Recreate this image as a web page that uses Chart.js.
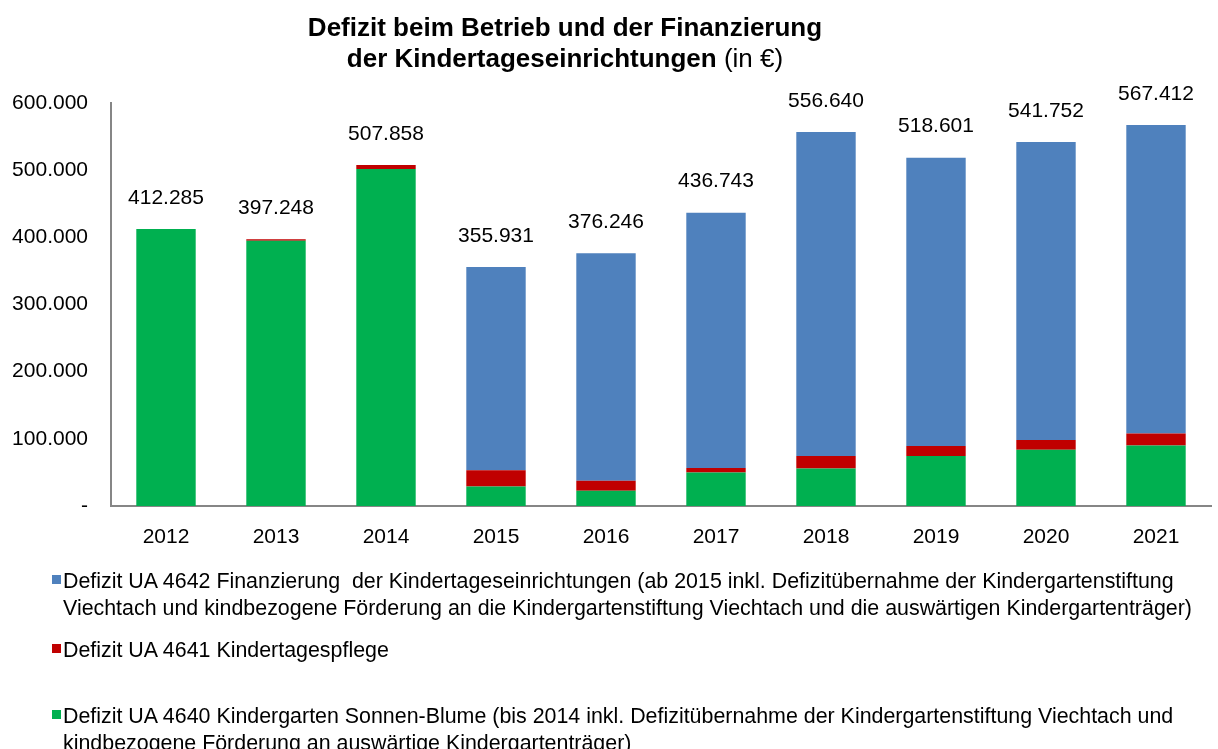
<!DOCTYPE html>
<html>
<head>
<meta charset="utf-8">
<script src="https://cdn.jsdelivr.net/npm/chart.js@4"></script>
<style>
    body { margin: 0; background: #fff; font-family: "Liberation Sans", Arial, sans-serif; }
    #wrap { position: relative; width: 1218px; height: 749px; overflow: hidden; }
    #chart { position: absolute; left: 0; top: 0; }
    #title { position: absolute; left: 215px; width: 700px; top: 12px; text-align: center; font-size: 26px; line-height: 31px; color: #000; }
    #title b { font-weight: bold; }
    .leg { position: absolute; left: 63px; font-size: 21.4px; line-height: 27px; color: #000; white-space: nowrap; }
    .leg i { position: absolute; left: -11px; top: 7px; width: 9px; height: 9px; }
</style>
</head>
<body>
<div id="wrap">
    <canvas id="chart" width="1218" height="749"></canvas>
    <div id="title"><b>Defizit beim Betrieb und der Finanzierung</b><br><b>der Kindertageseinrichtungen</b> (in €)</div>
    <div id="legend"></div>
</div>
<script>
const years = ["2012", "2013", "2014", "2015", "2016", "2017", "2018", "2019", "2020", "2021"];

const greenValues = [412285, 394748, 501858, 29000, 22700, 50000, 56000, 74300, 83900, 89900];
const redValues = [0, 2500, 6000, 24300, 15000, 6400, 18400, 15000, 14300, 17900];
const blueValues = [0, 0, 0, 302631, 338546, 380343, 482240, 429301, 443552, 459612];
const totals = [412285, 397248, 507858, 355931, 376246, 436743, 556640, 518601, 541752, 567412];

const yTicks = [0, 100000, 200000, 300000, 400000, 500000, 600000];

const legendTexts = [
    "Defizit UA 4642 Finanzierung&nbsp; der Kindertageseinrichtungen (ab 2015 inkl. Defizitübernahme der Kindergartenstiftung<br>Viechtach und kindbezogene Förderung an die Kindergartenstiftung Viechtach und die auswärtigen Kindergartenträger)",
    "Defizit UA 4641 Kindertagespflege",
    "Defizit UA 4640 Kindergarten Sonnen-Blume (bis 2014 inkl. Defizitübernahme der Kindergartenstiftung Viechtach und<br>kindbezogene Förderung an auswärtige Kindergartenträger)"
];
const legendTops = [568, 637, 703];

const FONT = "'Liberation Sans', Arial, sans-serif";

function formatDE(v) {
    if (v === 0) return "-";
    return String(Math.round(v)).replace(/\B(?=(\d{3})+(?!\d))/g, ".");
}

const totalLabels = {
    id: "totalLabels",
    afterDatasetsDraw(chart) {
        const ctx = chart.ctx;
        const x = chart.scales.x;
        const y = chart.scales.y;
        ctx.save();
        ctx.font = "21px " + FONT;
        ctx.fillStyle = "#000";
        ctx.textAlign = "center";
        ctx.textBaseline = "middle";
        totals.forEach((t, i) => {
            ctx.fillText(formatDE(t), x.getPixelForValue(i), y.getPixelForValue(t) - 31);
        });
        ctx.restore();
    }
};

const chart = new Chart(document.getElementById("chart"), {
    type: "bar",
    data: {
        labels: years,
        datasets: [
            { label: "Defizit UA 4640", data: greenValues, backgroundColor: "#00B050" },
            { label: "Defizit UA 4641", data: redValues, backgroundColor: "#C00000" },
            { label: "Defizit UA 4642", data: blueValues, backgroundColor: "#4F81BD" }
        ]
    },
    options: {
        responsive: false,
        animation: false,
        layout: { padding: { top: 103, right: 7, left: 0, bottom: 0 } },
        datasets: { bar: { categoryPercentage: 1, barPercentage: 0.54 } },
        scales: {
            x: {
                stacked: true,
                grid: { display: false, drawTicks: false },
                border: { color: "#868686", width: 2 },
                ticks: { color: "#000", font: { family: FONT, size: 21 }, padding: 19 },
                afterFit(scale) { scale.height = 243; }
            },
            y: {
                stacked: true,
                min: 0,
                max: 600000,
                grid: { display: false, drawTicks: false },
                border: { color: "#868686", width: 2 },
                afterBuildTicks(scale) { scale.ticks = yTicks.map(v => ({ value: v })); },
                ticks: {
                    color: "#000",
                    font: { family: FONT, size: 21 },
                    padding: 23,
                    callback: v => formatDE(v)
                },
                afterFit(scale) { scale.width = 111; }
            }
        },
        plugins: {
            legend: { display: false },
            tooltip: { enabled: false }
        }
    },
    plugins: [totalLabels]
});

// legend in HTML, blue first like the original
const legendEl = document.getElementById("legend");
const order = [2, 1, 0];
order.forEach((di, k) => {
    const ds = chart.data.datasets[di];
    const div = document.createElement("div");
    div.className = "leg";
    div.style.top = legendTops[k] + "px";
    div.innerHTML = `<i style="background:${ds.backgroundColor}"></i>${legendTexts[k]}`;
    legendEl.appendChild(div);
});
</script>
</body>
</html>
